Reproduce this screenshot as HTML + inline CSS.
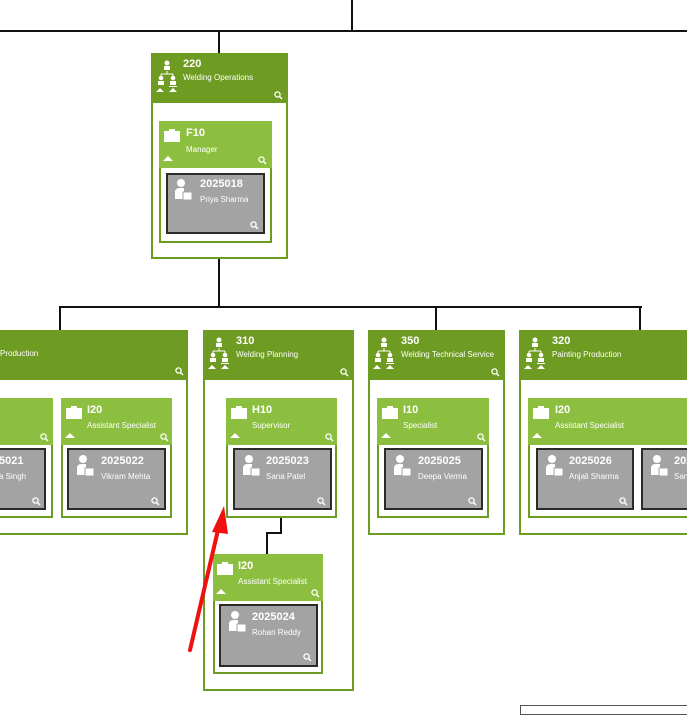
<!DOCTYPE html>
<html><head><meta charset="utf-8"><style>
body{margin:0;width:687px;height:709px;overflow:hidden;background:#fff;position:relative;font-family:"Liberation Sans",sans-serif;color:#fff}
div{position:absolute;box-sizing:border-box}
.org{border:2px solid #6e9b21;background:#fff}
.oh{background:#6e9b21}
.pos{border:2px solid #6e9b21;background:#fff}
.ph{background:#8cbf3f}
.per{background:#a3a3a3;border:2px solid #2b2b2b}
.n{font-weight:bold;font-size:11px;white-space:nowrap}
.t{font-size:8px;white-space:nowrap}
.l{background:#111}
svg{position:absolute}
</style></head><body>
<svg width="0" height="0" style="position:absolute"><defs>
<g id="org"><circle cx="11" cy="3" r="2.5" fill="#fff"/><rect x="8" y="6" width="6" height="4" fill="#fff"/><path d="M11 11v3M5 14h12M5 14v2M17 14v2" stroke="#fff" fill="none"/><circle cx="5" cy="18" r="2.3" fill="#fff"/><circle cx="17" cy="18" r="2.3" fill="#fff"/><rect x="2" y="21" width="6" height="4" fill="#fff"/><rect x="14" y="21" width="6" height="4" fill="#fff"/><path d="M0 32l4-4 4 4zM13 32l4-4 4 4z" fill="#fff"/><rect x="13" y="26" width="8" height="1" fill="#fff"/></g>
<g id="bc"><rect x="0" y="2" width="16" height="11" fill="#fff"/><rect x="5" y="0" width="6" height="3" fill="#fff"/></g>
<g id="pp"><circle cx="7" cy="4" r="4" fill="#fff"/><path d="M1 20v-7q0-4 5-4h4v11z" fill="#fff"/><rect x="9" y="13" width="9" height="8" fill="#fff" stroke="#a3a3a3"/></g>
<g id="up"><path d="M0 5l5-5 5 5z" fill="#fff"/></g>
<g id="mg"><circle cx="3.5" cy="3.5" r="2.6" stroke="#fff" stroke-width="1.3" fill="none"/><path d="M5.5 5.5l2.5 2.5" stroke="#fff" stroke-width="1.5"/></g>
</defs></svg>

<!-- connectors -->
<div class="l" style="left:351px;top:0;width:2px;height:32px"></div>
<div class="l" style="left:0;top:30px;width:687px;height:2px"></div>
<div class="l" style="left:218px;top:30px;width:2px;height:24px"></div>
<div class="l" style="left:218px;top:257px;width:2px;height:51px"></div>
<div class="l" style="left:59px;top:306px;width:583px;height:2px"></div>
<div class="l" style="left:59px;top:306px;width:2px;height:25px"></div>
<div class="l" style="left:435px;top:306px;width:2px;height:25px"></div>
<div class="l" style="left:639px;top:306px;width:2px;height:25px"></div>

<!-- 220 -->
<div class="org" style="left:151px;top:53px;width:137px;height:206px"></div>
<div class="oh" style="left:151px;top:53px;width:137px;height:50px"></div>
<svg style="left:156px;top:60px" width="24" height="34"><use href="#org"/></svg>
<div class="n" style="left:183px;top:58px">220</div>
<div class="t" style="left:183px;top:73px">Welding Operations</div>
<svg style="left:274px;top:91px" width="9" height="9"><use href="#mg"/></svg>
<div class="pos" style="left:159px;top:121px;width:113px;height:122px"></div>
<div class="ph" style="left:159px;top:121px;width:113px;height:47px"></div>
<svg style="left:164px;top:129px" width="17" height="14"><use href="#bc"/></svg>
<svg style="left:163px;top:156px" width="10" height="6"><use href="#up"/></svg>
<svg style="left:258px;top:156px" width="9" height="9"><use href="#mg"/></svg>
<div class="n" style="left:186px;top:127px">F10</div>
<div class="t" style="left:186px;top:145px">Manager</div>
<div class="per" style="left:166px;top:173px;width:99px;height:61px"></div>
<svg style="left:174px;top:179px" width="19" height="22"><use href="#pp"/></svg>
<div class="n" style="left:200px;top:178px">2025018</div>
<div class="t" style="left:200px;top:195px">Priya Sharma</div>
<svg style="left:250px;top:221px" width="9" height="9"><use href="#mg"/></svg>

<!-- left partial -->
<div class="org" style="left:-20px;top:330px;width:208px;height:205px"></div>
<div class="oh" style="left:-20px;top:330px;width:208px;height:50px"></div>
<div class="t" style="left:0px;top:349px">Production</div>
<svg style="left:175px;top:367px" width="9" height="9"><use href="#mg"/></svg>
<div class="pos" style="left:-60px;top:398px;width:113px;height:120px"></div>
<div class="ph" style="left:-60px;top:398px;width:113px;height:47px"></div>
<div class="t" style="left:-2px;top:420px">t</div>
<svg style="left:40px;top:433px" width="9" height="9"><use href="#mg"/></svg>
<div class="per" style="left:-53px;top:448px;width:99px;height:62px"></div>
<div class="n" style="left:-1px;top:455px">5021</div>
<div class="t" style="left:-1px;top:472px">a Singh</div>
<svg style="left:32px;top:497px" width="9" height="9"><use href="#mg"/></svg>

<div class="pos" style="left:61px;top:398px;width:111px;height:120px"></div>
<div class="ph" style="left:61px;top:398px;width:111px;height:47px"></div>
<svg style="left:66px;top:406px" width="17" height="14"><use href="#bc"/></svg>
<svg style="left:65px;top:433px" width="10" height="6"><use href="#up"/></svg>
<svg style="left:160px;top:433px" width="9" height="9"><use href="#mg"/></svg>
<div class="n" style="left:87px;top:404px">I20</div>
<div class="t" style="left:87px;top:421px">Assistant Specialist</div>
<div class="per" style="left:67px;top:448px;width:99px;height:62px"></div>
<svg style="left:76px;top:455px" width="19" height="22"><use href="#pp"/></svg>
<div class="n" style="left:101px;top:455px">2025022</div>
<div class="t" style="left:101px;top:472px">Vikram Mehta</div>
<svg style="left:151px;top:497px" width="9" height="9"><use href="#mg"/></svg>

<!-- 310 -->
<div class="org" style="left:203px;top:330px;width:151px;height:361px"></div>
<div class="oh" style="left:203px;top:330px;width:151px;height:50px"></div>
<div class="l" style="left:280px;top:516px;width:2px;height:18px"></div>
<div class="l" style="left:266px;top:532px;width:16px;height:2px"></div>
<div class="l" style="left:266px;top:532px;width:2px;height:23px"></div>
<svg style="left:208px;top:337px" width="24" height="34"><use href="#org"/></svg>
<div class="n" style="left:236px;top:335px">310</div>
<div class="t" style="left:236px;top:350px">Welding Planning</div>
<svg style="left:340px;top:368px" width="9" height="9"><use href="#mg"/></svg>
<div class="pos" style="left:226px;top:398px;width:111px;height:120px"></div>
<div class="ph" style="left:226px;top:398px;width:111px;height:47px"></div>
<svg style="left:231px;top:406px" width="17" height="14"><use href="#bc"/></svg>
<svg style="left:230px;top:433px" width="10" height="6"><use href="#up"/></svg>
<svg style="left:325px;top:433px" width="9" height="9"><use href="#mg"/></svg>
<div class="n" style="left:252px;top:404px">H10</div>
<div class="t" style="left:252px;top:421px">Supervisor</div>
<div class="per" style="left:233px;top:448px;width:99px;height:62px"></div>
<svg style="left:242px;top:455px" width="19" height="22"><use href="#pp"/></svg>
<div class="n" style="left:266px;top:455px">2025023</div>
<div class="t" style="left:266px;top:472px">Sana Patel</div>
<svg style="left:317px;top:497px" width="9" height="9"><use href="#mg"/></svg>

<div class="pos" style="left:213px;top:554px;width:110px;height:120px"></div>
<div class="ph" style="left:213px;top:554px;width:110px;height:47px"></div>
<svg style="left:217px;top:562px" width="17" height="14"><use href="#bc"/></svg>
<svg style="left:216px;top:589px" width="10" height="6"><use href="#up"/></svg>
<svg style="left:311px;top:589px" width="9" height="9"><use href="#mg"/></svg>
<div class="n" style="left:238px;top:560px">I20</div>
<div class="t" style="left:238px;top:577px">Assistant Specialist</div>
<div class="per" style="left:219px;top:604px;width:99px;height:63px"></div>
<svg style="left:228px;top:611px" width="19" height="22"><use href="#pp"/></svg>
<div class="n" style="left:252px;top:611px">2025024</div>
<div class="t" style="left:252px;top:628px">Rohan Reddy</div>
<svg style="left:303px;top:653px" width="9" height="9"><use href="#mg"/></svg>

<!-- 350 -->
<div class="org" style="left:368px;top:330px;width:137px;height:205px"></div>
<div class="oh" style="left:368px;top:330px;width:137px;height:50px"></div>
<svg style="left:373px;top:337px" width="24" height="34"><use href="#org"/></svg>
<div class="n" style="left:401px;top:335px">350</div>
<div class="t" style="left:401px;top:350px">Welding Technical Service</div>
<svg style="left:491px;top:368px" width="9" height="9"><use href="#mg"/></svg>
<div class="pos" style="left:377px;top:398px;width:112px;height:120px"></div>
<div class="ph" style="left:377px;top:398px;width:112px;height:47px"></div>
<svg style="left:382px;top:406px" width="17" height="14"><use href="#bc"/></svg>
<svg style="left:381px;top:433px" width="10" height="6"><use href="#up"/></svg>
<svg style="left:477px;top:433px" width="9" height="9"><use href="#mg"/></svg>
<div class="n" style="left:403px;top:404px">I10</div>
<div class="t" style="left:403px;top:421px">Specialist</div>
<div class="per" style="left:384px;top:448px;width:99px;height:62px"></div>
<svg style="left:393px;top:455px" width="19" height="22"><use href="#pp"/></svg>
<div class="n" style="left:418px;top:455px">2025025</div>
<div class="t" style="left:418px;top:472px">Deepa Verma</div>
<svg style="left:468px;top:497px" width="9" height="9"><use href="#mg"/></svg>

<!-- 320 -->
<div class="org" style="left:519px;top:330px;width:200px;height:205px"></div>
<div class="oh" style="left:519px;top:330px;width:200px;height:50px"></div>
<svg style="left:524px;top:337px" width="24" height="34"><use href="#org"/></svg>
<div class="n" style="left:552px;top:335px">320</div>
<div class="t" style="left:552px;top:350px">Painting Production</div>
<div class="pos" style="left:528px;top:398px;width:190px;height:120px"></div>
<div class="ph" style="left:528px;top:398px;width:190px;height:47px"></div>
<svg style="left:533px;top:406px" width="17" height="14"><use href="#bc"/></svg>
<svg style="left:532px;top:433px" width="10" height="6"><use href="#up"/></svg>
<div class="n" style="left:555px;top:404px">I20</div>
<div class="t" style="left:555px;top:421px">Assistant Specialist</div>
<div class="per" style="left:536px;top:448px;width:98px;height:62px"></div>
<svg style="left:545px;top:455px" width="19" height="22"><use href="#pp"/></svg>
<div class="n" style="left:569px;top:455px">2025026</div>
<div class="t" style="left:569px;top:472px">Anjali Sharma</div>
<svg style="left:619px;top:497px" width="9" height="9"><use href="#mg"/></svg>
<div class="per" style="left:641px;top:448px;width:98px;height:62px"></div>
<svg style="left:650px;top:455px" width="19" height="22"><use href="#pp"/></svg>
<div class="n" style="left:674px;top:455px">2025027</div>
<div class="t" style="left:674px;top:472px">Sanjay</div>

<!-- bottom box -->
<div style="left:520px;top:705px;width:200px;height:10px;border:1px solid #555"></div>

<!-- red arrow -->
<svg style="left:0;top:0" width="687" height="709"><line x1="190" y1="650" x2="218" y2="530" stroke="#f01010" stroke-width="4" stroke-linecap="round"/><path d="M224 506L212 532L228 534Z" fill="#f01010"/></svg>
</body></html>
